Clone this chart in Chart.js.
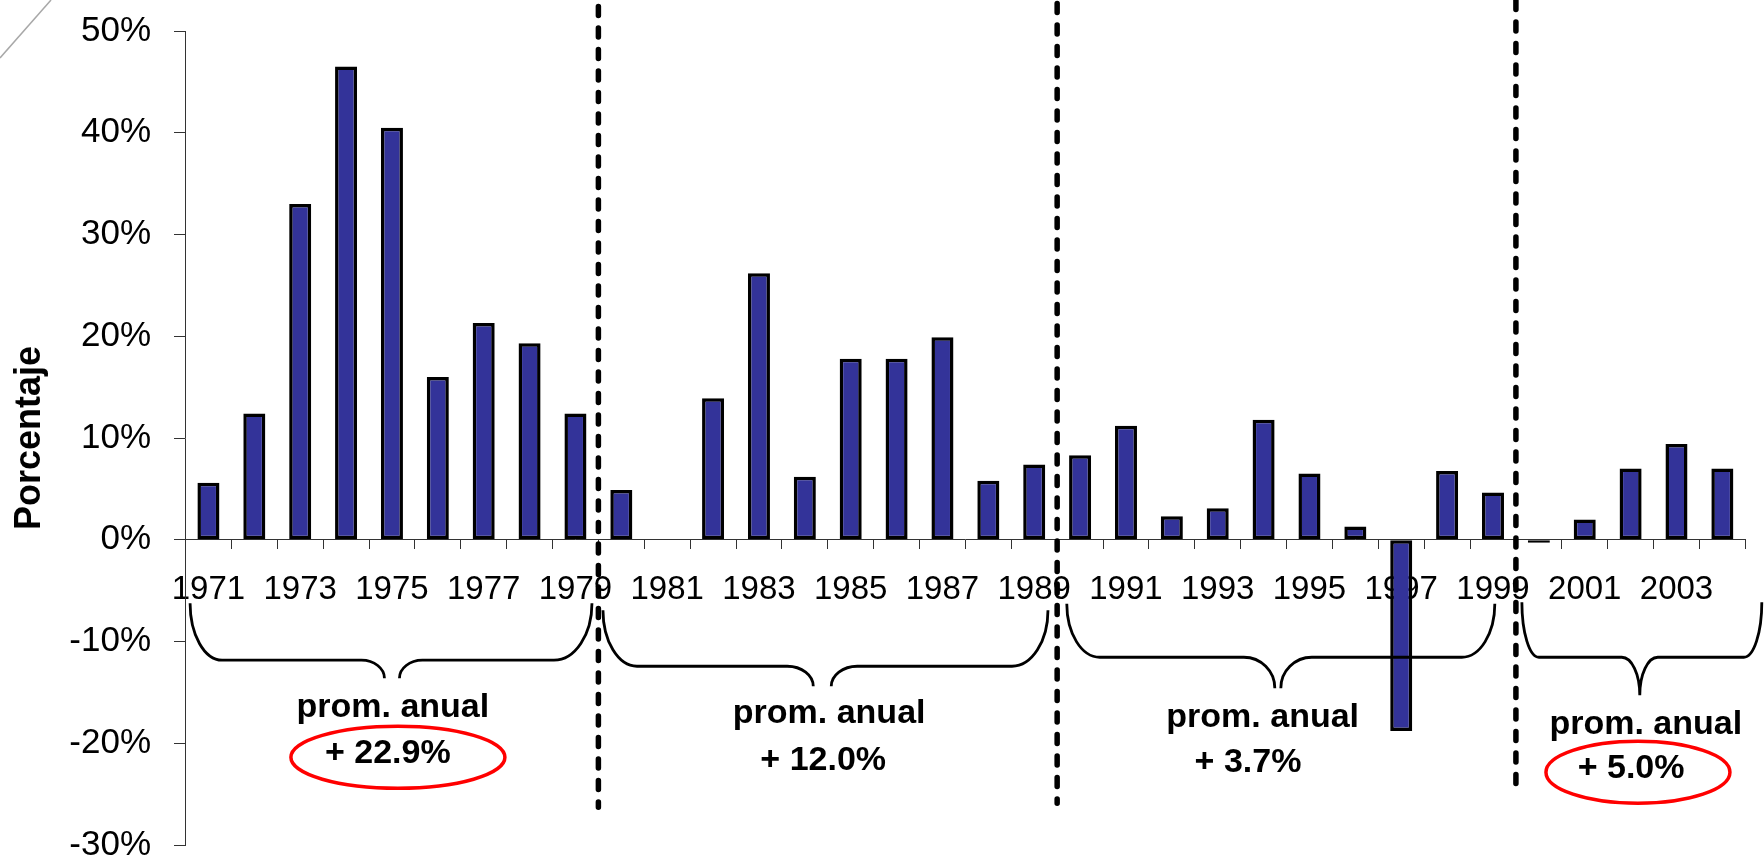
<!DOCTYPE html>
<html>
<head>
<meta charset="utf-8">
<script src="https://cdn.jsdelivr.net/npm/chart.js@4.4.0/dist/chart.umd.min.js"></script>
<style>
html,body{margin:0;padding:0;background:#fff;}
#wrap{width:1764px;height:861px;position:relative;}
</style>
</head>
<body>
<div id="wrap"><canvas id="c"></canvas></div>
<script>
// ---- data ----
const years = ['1971','1972','1973','1974','1975','1976','1977','1978','1979','1980',
               '1981','1982','1983','1984','1985','1986','1987','1988','1989','1990',
               '1991','1992','1993','1994','1995','1996','1997','1998','1999','2000',
               '2001','2002','2003','2004'];
const changes = [5.6, 12.4, 33.0, 46.5, 40.5, 16.0, 21.3, 19.3, 12.4, 4.9,
                 0, 13.9, 26.2, 6.2, 17.8, 17.8, 19.9, 5.8, 7.4, 8.3,
                 11.2, 2.3, 3.1, 11.8, 6.5, 1.3, -18.8, 6.75, 4.65, -0.3,
                 2.0, 7.0, 9.4, 7.0];
const yTickValues = [50, 40, 30, 20, 10, 0, -10, -20, -30];
const axisTitle = 'Porcentaje';
const periodCaption = 'prom. anual';
const periodStartYears = ['1971', '1980', '1990', '2000'];
const periodAverages = ['+ 22.9%', '+ 12.0%', '+ 3.7%', '+ 5.0%'];
const circledPeriods = [0, 3];
const dividerYears = ['1980', '1990', '2000'];

// ---- annotation geometry (x in category units from left edge, y in axis % units) ----
const dividerGeom = [
  {top: 52.4, bottom: -26.3},
  {top: 52.7, bottom: -25.9},
  {top: 53.0, bottom: -24.9}
];
const braceGeom = [
  {x0: 0.10, x1: 8.86, xt: 4.50, yTop: -6.24, yLine: -11.84, yTip: -13.61, armL: 32, armR: 38, curveW: 23, gap: 15},
  {x0: 9.10, x1: 18.80, xt: 13.88, yTop: -6.93, yLine: -12.43, yTip: -14.40, armL: 34, armR: 36, curveW: 26, gap: 18},
  {x0: 19.21, x1: 28.54, xt: 23.81, yTop: -6.3, yLine: -11.55, yTip: -14.59, armL: 33, armR: 33, curveW: 31, gap: 6},
  {x0: 29.13, x1: 34.36, xt: 31.70, yTop: -6.14, yLine: -11.55, yTip: -15.28, armL: 17, armR: 18, curveW: 18, gap: 0}
];
const textGeom = [
  {cx: 4.52, cy: -17.44, vx: 4.41, vy: -21.97, ex: 4.63, ey: -21.38, rx: 107, ry: 31},
  {cx: 14.03, cy: -18.03, vx: 13.90, vy: -22.65},
  {cx: 23.48, cy: -18.43, vx: 23.16, vy: -22.85},
  {cx: 31.83, cy: -19.12, vx: 31.51, vy: -23.44, ex: 31.66, ey: -22.85, rx: 92, ry: 31}
];

const FONT = '"Liberation Sans", Arial, Helvetica, sans-serif';

function drawBrace(ctx, px, py, g) {
  const k = 0.5523;
  const xL = px(g.x0), xR = px(g.x1), xT = px(g.xt);
  const yTop = py(g.yTop), yLine = py(g.yLine), yTip = py(g.yTip);
  const a = xT - g.gap / 2, b = xT + g.gap / 2;
  ctx.beginPath();
  ctx.moveTo(xL, yTop);
  ctx.bezierCurveTo(xL, yTop + k * (yLine - yTop), xL + g.armL * (1 - k), yLine, xL + g.armL, yLine);
  ctx.lineTo(a - g.curveW, yLine);
  ctx.bezierCurveTo(a - g.curveW + k * g.curveW, yLine, a, yTip - k * (yTip - yLine), a, yTip);
  ctx.moveTo(b, yTip);
  ctx.bezierCurveTo(b, yTip - k * (yTip - yLine), b + g.curveW - k * g.curveW, yLine, b + g.curveW, yLine);
  ctx.lineTo(xR - g.armR, yLine);
  ctx.bezierCurveTo(xR - g.armR * (1 - k), yLine, xR, yTop + k * (yLine - yTop), xR, yTop);
  ctx.stroke();
}

const annotPlugin = {
  id: 'annot',
  afterDraw(chart) {
    const ctx = chart.ctx;
    const xs = chart.scales.x, ys = chart.scales.y;
    const px = u => xs.getPixelForValue(u - 0.5);
    const py = v => ys.getPixelForValue(v);
    ctx.save();
    // faint diagonal stroke in the corner
    ctx.strokeStyle = '#a8a8a8';
    ctx.lineWidth = 1.5;
    ctx.beginPath(); ctx.moveTo(0, 58); ctx.lineTo(51, 0); ctx.stroke();

    // dashed period dividers
    ctx.strokeStyle = '#000';
    ctx.lineWidth = 5.5;
    ctx.lineCap = 'round';
    ctx.setLineDash([9, 12.5]);
    dividerYears.forEach((yr, i) => {
      const xx = px(years.indexOf(yr));
      ctx.beginPath();
      ctx.moveTo(xx, py(dividerGeom[i].top));
      ctx.lineTo(xx, py(dividerGeom[i].bottom));
      ctx.stroke();
    });
    ctx.setLineDash([]);

    // braces
    ctx.lineWidth = 2.8;
    ctx.lineCap = 'butt';
    braceGeom.forEach(g => drawBrace(ctx, px, py, g));

    // texts
    ctx.fillStyle = '#000';
    ctx.textAlign = 'center';
    ctx.textBaseline = 'alphabetic';
    ctx.font = 'bold 34px ' + FONT;
    periodStartYears.forEach((yr, i) => {
      const t = textGeom[i];
      ctx.fillText(periodCaption, px(t.cx), py(t.cy));
      ctx.fillText(periodAverages[i], px(t.vx), py(t.vy));
    });

    // red ellipses
    ctx.strokeStyle = '#ff0000';
    ctx.lineWidth = 3.5;
    circledPeriods.forEach(i => {
      const t = textGeom[i];
      ctx.beginPath();
      ctx.ellipse(px(t.ex), py(t.ey), t.rx, t.ry, 0, 0, Math.PI * 2);
      ctx.stroke();
    });
    ctx.restore();
  }
};

new Chart(document.getElementById('c'), {
  type: 'bar',
  data: {
    labels: years,
    datasets: [{
      data: changes,
      backgroundColor: '#333399',
      borderColor: '#000000',
      borderWidth: 3.5,
      borderSkipped: false,
      barPercentage: 0.48,
      categoryPercentage: 1.0
    }]
  },
  options: {
    responsive: true,
    maintainAspectRatio: false,
    animation: false,
    layout: {padding: {top: 31, bottom: 16, left: 0, right: 18.7}},
    plugins: {legend: {display: false}, tooltip: {enabled: false}},
    scales: {
      x: {
        position: {y: 0},
        offset: true,
        grid: {offset: true, drawOnChartArea: false, drawTicks: true, tickLength: 9, color: '#333', lineWidth: 1},
        border: {display: true, color: '#333', width: 1},
        ticks: {
          autoSkip: false, maxRotation: 0, minRotation: 0, padding: 21, color: '#000',
          font: {family: FONT, size: 33},
          callback: (v, i) => (i % 2 === 0 ? years[i] : '')
        },
        afterFit: s => { s.paddingLeft = 0; s.paddingRight = 0; }
      },
      y: {
        min: -30, max: 50,
        afterBuildTicks: s => { s.ticks = yTickValues.map(v => ({value: v})); },
        ticks: {
          padding: 23, color: '#000',
          font: {family: FONT, size: 35},
          callback: v => v + '%'
        },
        grid: {drawOnChartArea: false, drawTicks: true, tickLength: 11.5, color: '#333', lineWidth: 1},
        border: {display: true, color: '#333', width: 1},
        title: {
          display: true, text: axisTitle, color: '#000',
          font: {family: FONT, size: 36, weight: 'bold'},
          padding: {top: 8, bottom: 0}
        },
        afterFit: s => { s.width = 185.5; s.paddingTop = 0; s.paddingBottom = 0; }
      }
    }
  },
  plugins: [annotPlugin]
});
</script>
</body>
</html>
